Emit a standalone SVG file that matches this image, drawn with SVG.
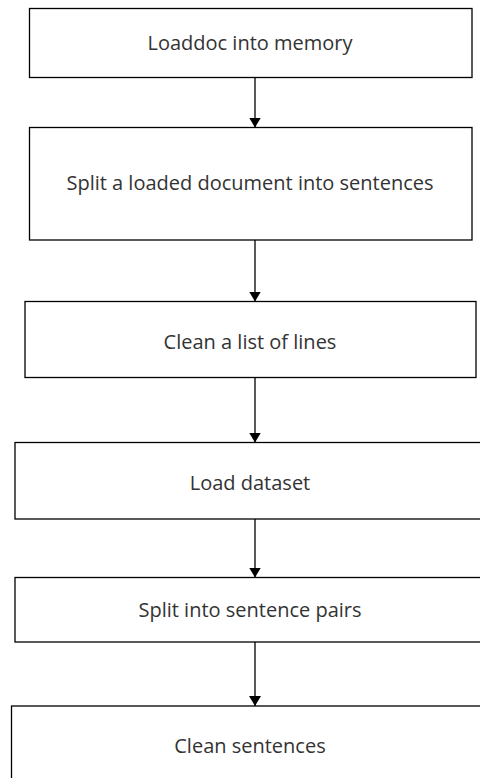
<svg xmlns="http://www.w3.org/2000/svg" width="480" height="778" viewBox="0 0 480 778">
  <defs>
    <marker id="arrow" viewBox="0 0 10 12" refX="10" refY="6" markerWidth="10" markerHeight="12" markerUnits="userSpaceOnUse" orient="auto">
      <path d="M0,0 L10,6 L0,12 Z" fill="#000"/>
    </marker>
    <style>
      .box { fill: #fff; stroke: #000; stroke-width: 1.3; }
      .label { font-family: "Open Sans", "Noto Sans", "Liberation Sans", sans-serif; font-size: 20px; fill: #333; text-anchor: middle; }
      .link { stroke: #000; stroke-width: 1.3; fill: none; marker-end: url(#arrow); }
    </style>
  </defs>
  <rect width="480" height="778" fill="#fff"/>

  <g id="connectors">
    <line class="link" x1="255" y1="77.5" x2="255" y2="127.5"/>
    <line class="link" x1="255" y1="240" x2="255" y2="301.5"/>
    <line class="link" x1="255" y1="377.5" x2="255" y2="442.5"/>
    <line class="link" x1="255" y1="519" x2="255" y2="577.5"/>
    <line class="link" x1="255" y1="642" x2="255" y2="706"/>
  </g>

  <g id="load-doc">
    <rect class="box" x="29.5" y="8.5" width="442.5" height="69"/>
    <text class="label" x="250" y="50">Loaddoc into memory</text>
  </g>
  <g id="split-doc">
    <rect class="box" x="29.5" y="127.5" width="442.5" height="112.5"/>
    <text class="label" x="250" y="190">Split a loaded document into sentences</text>
  </g>
  <g id="clean-lines">
    <rect class="box" x="25" y="301.5" width="451" height="76"/>
    <text class="label" x="250" y="349">Clean a list of lines</text>
  </g>
  <g id="load-dataset">
    <rect class="box" x="15" y="442.5" width="480" height="76.5"/>
    <text class="label" x="250" y="490">Load dataset</text>
  </g>
  <g id="split-pairs">
    <rect class="box" x="15" y="577.5" width="480" height="64.5"/>
    <text class="label" x="250" y="616.5">Split into sentence pairs</text>
  </g>
  <g id="clean-sentences">
    <rect class="box" x="11.5" y="706" width="480" height="100"/>
    <text class="label" x="250" y="753">Clean sentences</text>
  </g>
</svg>
